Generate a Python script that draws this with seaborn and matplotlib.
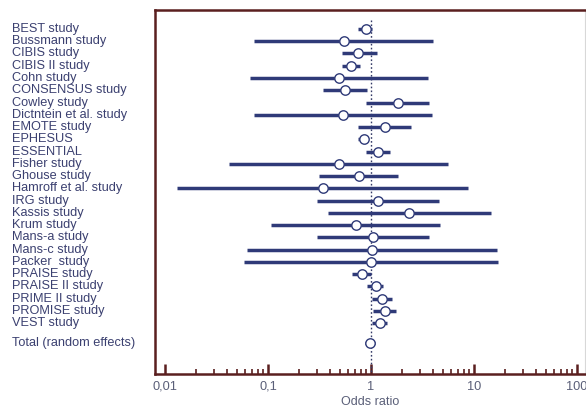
import matplotlib
matplotlib.use("Agg")
import matplotlib.pyplot as plt
import matplotlib.transforms as mtransforms
from matplotlib.ticker import FixedLocator, NullFormatter
import seaborn as sns
import pandas as pd

studies = [
    "BEST study", "Bussmann study", "CIBIS study", "CIBIS II study", "Cohn study",
    "CONSENSUS study", "Cowley study", "Dictntein et al. study", "EMOTE study",
    "EPHESUS", "ESSENTIAL", "Fisher study", "Ghouse study", "Hamroff et al. study",
    "IRG study", "Kassis study", "Krum study", "Mans-a study", "Mans-c study",
    "Packer  study", "PRAISE study", "PRAISE II study", "PRIME II study",
    "PROMISE study", "VEST study", "Total (random effects)",
]
odds = [0.89, 0.55, 0.75, 0.64, 0.49, 0.56, 1.84, 0.53, 1.37, 0.85, 1.18, 0.49, 0.76,
        0.34, 1.16, 2.36, 0.71, 1.05, 1.03, 1.0, 0.81, 1.11, 1.29, 1.38, 1.22, 0.98]
ci_low = [0.75, 0.073, 0.52, 0.52, 0.067, 0.34, 0.89, 0.073, 0.75, 0.75, 0.89, 0.042,
          0.31, 0.013, 0.30, 0.38, 0.107, 0.30, 0.063, 0.059, 0.65, 0.91, 1.02, 1.05,
          1.02, 0.87]
ci_high = [1.02, 3.97, 1.14, 0.78, 3.6, 0.92, 3.68, 3.88, 2.43, 0.94, 1.53, 5.6, 1.84,
           8.8, 4.6, 14.5, 4.7, 3.68, 16.8, 17.2, 0.99, 1.32, 1.59, 1.75, 1.42, 1.09]

tick_vals = [0.01, 0.1, 1, 10, 100]
tick_labels = ["0,01", "0,1", "1", "10", "100"]
minor_vals = [m * d for d in [0.01, 0.1, 1, 10] for m in range(2, 10)]

# row positions: studies one per row, total after a small gap
rows = list(range(len(studies) - 1)) + [25.6]
df = pd.DataFrame({"study": studies, "or": odds, "lo": ci_low, "hi": ci_high, "row": rows})

navy = "#2f3a78"
maroon = "#5a1f1f"
text_col = "#3b4070"
tick_col = "#5a5f78"

sns.set_style("white")
plt.rcParams["font.family"] = ["Liberation Sans", "DejaVu Sans"]

fig = plt.figure(figsize=(5.86, 4.12), dpi=100)
ax = fig.add_axes([155 / 586, 1 - 374 / 412, 430 / 586, 364 / 412])

ax.set_xscale("log")
ax.set_xlim(0.008, 119.6)
ax.set_ylim(28.16, -1.55)

ax.vlines(1, -0.75, 28.16, colors="#333a66", linestyles=(0, (1.2, 1.6)), lw=1.0, zorder=1)
ax.hlines(df["row"], df["lo"], df["hi"], colors=navy, lw=2.5, zorder=2)
sns.scatterplot(data=df, x="or", y="row", ax=ax, s=46, color="white",
                edgecolor=navy, linewidth=1.0, zorder=3, legend=False)

trans = mtransforms.blended_transform_factory(fig.transFigure, ax.transData)
for name, r in zip(studies, rows):
    ax.text(12 / 586, r, name, transform=trans, ha="left", va="center",
            fontsize=9.2, color=text_col)

for side in ["left", "top", "bottom"]:
    ax.spines[side].set_color(maroon)
    ax.spines[side].set_linewidth(1.8)
ax.spines["right"].set_color("#d8d8d8")
ax.spines["right"].set_linewidth(0.8)

ax.set_yticks([])
ax.set_xticks(tick_vals)
ax.set_xticklabels(tick_labels)
ax.xaxis.set_minor_locator(FixedLocator(minor_vals))
ax.xaxis.set_minor_formatter(NullFormatter())
ax.tick_params(axis="x", which="major", direction="in", length=7, width=1.8,
               color=maroon, labelsize=9.2, labelcolor=tick_col, pad=5, bottom=True)
ax.tick_params(axis="x", which="minor", direction="in", length=3.5, width=1.2,
               color=maroon, bottom=True)
ax.set_xlabel("Odds ratio", fontsize=9, color=tick_col, labelpad=2)
ax.set_ylabel("")

fig.savefig("out.png", dpi=100)
